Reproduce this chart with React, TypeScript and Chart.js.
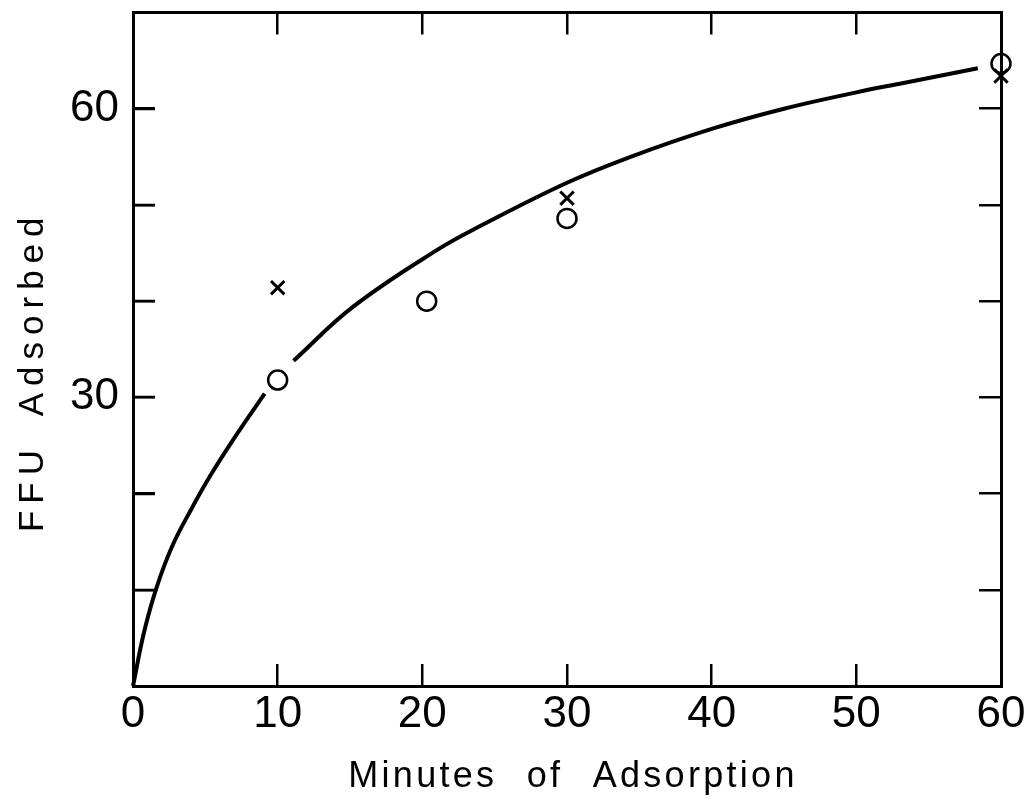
import React, { useEffect, useRef } from "react";
import { Chart, registerables } from "chart.js";

Chart.register(...registerables);

// ---- data ----
const curveX = [0, 0.75, 1.6, 2.7, 4.0, 5.4, 7.1, 9.1, 10, 11.1, 15.2, 21, 24, 30, 34.4, 40, 45, 50, 53, 58.4];
const curveY = [0, 5.5, 10.1, 14.5, 18.3, 22.0, 26.0, 30.4, null, 33.8, 39.4, 45.3, 47.8, 52.3, 55.0, 57.9, 60.0, 61.7, 62.6, 64.2];

const circleX = [10, 20.3, 30, 60];
const circleY = [31.8, 40.0, 48.6, 64.7];

const crossX = [10, 30, 60];
const crossY = [41.4, 50.7, 63.4];

const xMin = 0;
const xMax = 60;
const xStep = 10;
const yMin = 0;
const yMax = 70;
const yStep = 10;
const yLabelValues = [30, 60];

const xTitle = "Minutes of Adsorption";
const yTitle = "FFU Adsorbed";

const toPoints = (xs: number[], ys: (number | null)[]) => xs.map((x, i) => ({ x, y: ys[i] }));

const tickFont = { family: "'Liberation Sans', Arial, sans-serif", size: 44, lineHeight: 1 };

const TICK_LEN = 22;
const gridOpts = {
  drawOnChartArea: false,
  drawTicks: true,
  tickLength: -TICK_LEN,
  tickWidth: 2.5,
  tickColor: "#000",
  lineWidth: 2.5,
  color: "#000",
};
const borderOpts = { display: true, width: 3, color: "#000" };

const fixBox = (s: any, w: number | null, h: number | null) => {
  if (w !== null) s.width = w;
  if (h !== null) s.height = h;
  s.paddingLeft = 0;
  s.paddingRight = 0;
  s.paddingTop = 0;
  s.paddingBottom = 0;
};

const overlayPlugin = {
  id: "overlay",
  afterDraw(chart: any) {
    const ctx: CanvasRenderingContext2D = chart.ctx;
    const area = chart.chartArea;
    const yScale = chart.scales["y"];
    ctx.save();
    ctx.globalCompositeOperation = "source-over";
    ctx.globalAlpha = 1;
    // inward tick marks on the left axis, placed by the y scale
    ctx.strokeStyle = "#000000";
    ctx.lineWidth = 2.5;
    ctx.setLineDash([]);
    for (let v = yMin + yStep; v < yMax; v += yStep) {
      const py = Math.round(yScale.getPixelForValue(v));
      ctx.beginPath();
      ctx.moveTo(area.left, py);
      ctx.lineTo(area.left + TICK_LEN, py);
      ctx.stroke();
    }
    // x title
    ctx.fillStyle = "#000";
    ctx.font = "36px 'Liberation Sans', Arial, sans-serif";
    (ctx as any).letterSpacing = "3.3px";
    (ctx as any).wordSpacing = "16px";
    ctx.textAlign = "center";
    ctx.textBaseline = "alphabetic";
    ctx.fillText(xTitle, (area.left + area.right) / 2 + 6, area.bottom + 101);
    // y title
    ctx.font = "35px 'Liberation Sans', Arial, sans-serif";
    (ctx as any).letterSpacing = "7px";
    (ctx as any).wordSpacing = "10px";
    ctx.translate(43, (area.top + area.bottom) / 2 + 22);
    ctx.rotate(-Math.PI / 2);
    ctx.fillText(yTitle, 0, 0);
    ctx.restore();
  },
};

export default function App() {
  const ref = useRef<HTMLCanvasElement | null>(null);

  useEffect(() => {
    if (!ref.current) return;
    const chart = new Chart(ref.current, {
      type: "scatter",
      data: {
        datasets: [
          {
            type: "line",
            label: "fit",
            data: toPoints(curveX, curveY) as any,
            borderColor: "#000",
            borderWidth: 4,
            pointRadius: 0,
            fill: false,
            tension: 0.4,
            spanGaps: false,
            clip: false as any,
          },
          {
            label: "circles",
            data: toPoints(circleX, circleY) as any,
            pointStyle: "circle",
            pointRadius: 9.5,
            pointBorderWidth: 2.5,
            pointBorderColor: "#000",
            pointBackgroundColor: "rgba(0,0,0,0)",
            showLine: false,
            clip: false as any,
          },
          {
            label: "crosses",
            data: toPoints(crossX, crossY) as any,
            pointStyle: "crossRot",
            pointRadius: 9.5,
            pointBorderWidth: 3,
            pointBorderColor: "#000",
            showLine: false,
            clip: false as any,
          },
        ],
      },
      options: {
        animation: false,
        responsive: false,
        maintainAspectRatio: false,
        layout: { padding: 0 },
        plugins: { legend: { display: false }, tooltip: { enabled: false }, title: { display: false } },
        scales: {
          x: {
            type: "linear",
            position: "bottom",
            min: xMin,
            max: xMax,
            ticks: {
              stepSize: xStep,
              autoSkip: false,
              maxRotation: 0,
              padding: 29,
              color: "#000",
              font: tickFont as any,
            },
            grid: gridOpts as any,
            border: borderOpts as any,
            afterFit: (s: any) => fixBox(s, null, 113),
          },
          x2: {
            type: "linear",
            axis: "x",
            position: "top",
            min: xMin,
            max: xMax,
            ticks: { stepSize: xStep, display: false },
            grid: gridOpts as any,
            border: borderOpts as any,
            afterFit: (s: any) => fixBox(s, null, 12),
          },
          y: {
            type: "linear",
            position: "left",
            min: yMin,
            max: yMax,
            ticks: {
              stepSize: yStep,
              autoSkip: false,
              padding: 14,
              color: "#000",
              font: tickFont as any,
              callback: (v: any) => (yLabelValues.includes(Number(v)) ? String(v) : ""),
            },
            grid: { display: true, drawTicks: false, drawOnChartArea: false, lineWidth: 2.5, color: "#000" },
            border: borderOpts as any,
            afterFit: (s: any) => fixBox(s, 133, null),
          },
          y3: {
            type: "linear",
            axis: "y",
            position: { x: xMin },
            min: yMin,
            max: yMax,
            ticks: { stepSize: yStep, display: false },
            grid: gridOpts as any,
            border: { display: false },
          },
          y2: {
            type: "linear",
            axis: "y",
            position: "right",
            min: yMin,
            max: yMax,
            ticks: { stepSize: yStep, display: false },
            grid: gridOpts as any,
            border: borderOpts as any,
            afterFit: (s: any) => fixBox(s, 30, null),
          },
        } as any,
      },
      plugins: [overlayPlugin],
    });
    return () => chart.destroy();
  }, []);

  return (
    <div style={{ position: "absolute", left: 0, top: 0, width: 1031, height: 799, background: "#fff" }}>
      <canvas ref={ref} width={1031} height={799} style={{ display: "block" }} />
    </div>
  );
}
